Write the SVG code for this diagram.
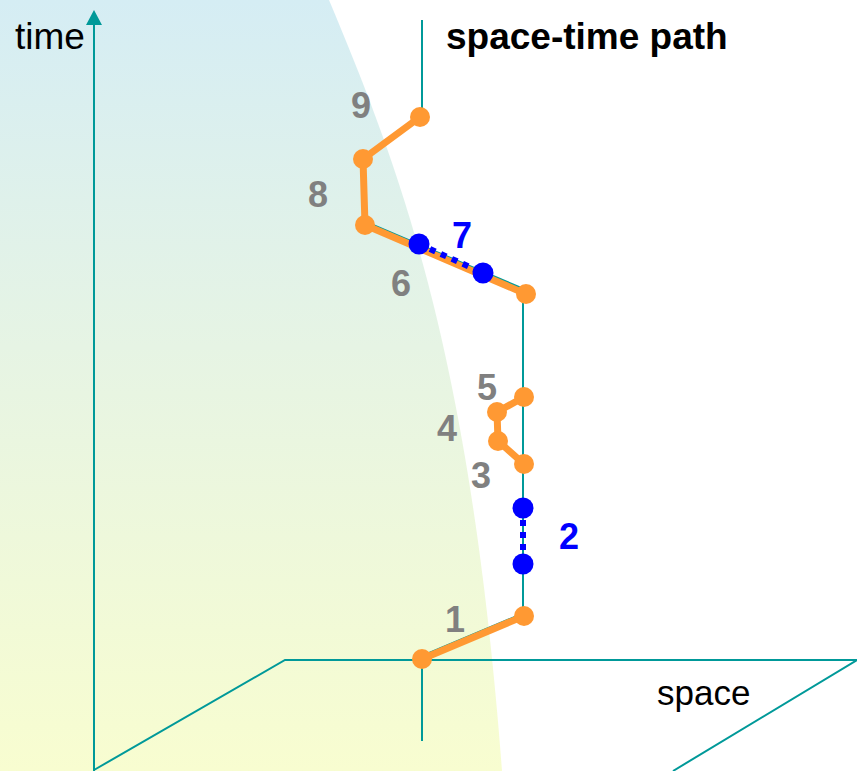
<svg xmlns="http://www.w3.org/2000/svg" width="857" height="771" viewBox="0 0 857 771">
<defs>
<linearGradient id="bg" x1="0" y1="0" x2="0" y2="1">
<stop offset="0" stop-color="#d5edf4"/>
<stop offset="0.45" stop-color="#e6f4e4"/>
<stop offset="1" stop-color="#f8fdd0"/>
</linearGradient>
<style>
.axis{fill:none;stroke:#009999;stroke-width:2}
.path{fill:none;stroke:#ff9933;stroke-width:7;stroke-linejoin:round}
.dash{fill:none;stroke:#0000ff;stroke-width:6;stroke-dasharray:6,6}
.on{fill:#ff9933}
.off{fill:#0000ff}
.num{font-family:"Liberation Sans",Arial,sans-serif;font-weight:bold;font-size:36px;fill:#808080}
.numb{font-family:"Liberation Sans",Arial,sans-serif;font-weight:bold;font-size:36px;fill:#0000ff}
.lbl{font-family:"Liberation Sans",Arial,sans-serif;font-size:36px;fill:#000}
</style>
</defs>
<rect width="857" height="771" fill="#ffffff"/>
<path d="M0,0 L329,0 C400,170 470,350 502,771 L0,771 Z" fill="url(#bg)"/>
<g id="axes">
<path class="axis" d="M94,771 L94,24"/>
<polygon points="94,10 86,25 102,25" fill="#009999"/>
<path class="axis" d="M94,770 L285,660 L857,660 L673,771"/>
</g>
<g id="connectors">
<path class="axis" d="M422,20 L422,117"/>
<path class="axis" d="M366,222 L526,290"/>
<path class="axis" d="M523,294 L523,616"/>
<path class="axis" d="M422,656 L524,613"/>
<path class="axis" d="M422,659 L422,741"/>
<path class="path" d="M420,117 L363,159 L365,225 L526,294"/>
<path class="path" d="M524,397 L497,412 L498,441 L524,464"/>
<path class="path" d="M422,659 L524,616"/>
<path class="dash" d="M419,244 L483,273"/>
<path class="dash" d="M523,508 L523,564"/>
</g>
<g id="node1"><circle class="on" cx="422" cy="659" r="10"/><circle class="on" cx="524" cy="616" r="10"/><text class="num" x="445" y="632">1</text></g>
<g id="node2"><circle class="off" cx="523" cy="508" r="10.5"/><circle class="off" cx="523" cy="564" r="10.5"/><text class="numb" x="559" y="549">2</text></g>
<g id="node3"><circle class="on" cx="524" cy="464" r="10"/><circle class="on" cx="498" cy="441" r="10"/><text class="num" x="471" y="488">3</text></g>
<g id="node4"><circle class="on" cx="497" cy="412" r="10"/><text class="num" x="437" y="441">4</text></g>
<g id="node5"><circle class="on" cx="524" cy="397" r="10"/><text class="num" x="477" y="400">5</text></g>
<g id="node6"><circle class="on" cx="526" cy="294" r="10"/><text class="num" x="391" y="296">6</text></g>
<g id="node7"><circle class="off" cx="419" cy="244" r="10.5"/><circle class="off" cx="483" cy="273" r="10.5"/><text class="numb" x="452" y="248">7</text></g>
<g id="node8"><circle class="on" cx="365" cy="225" r="10"/><circle class="on" cx="363" cy="159" r="10"/><text class="num" x="308" y="207">8</text></g>
<g id="node9"><circle class="on" cx="420" cy="117" r="10"/><text class="num" x="351" y="118">9</text></g>
<g id="labels">
<text class="lbl" x="15" y="49" style="font-size:37px">time</text>
<text class="lbl" x="657" y="705" style="font-size:35px">space</text>
<text class="lbl" x="446" y="49" style="font-weight:bold;font-size:37px">space-time path</text>
</g>
</svg>
